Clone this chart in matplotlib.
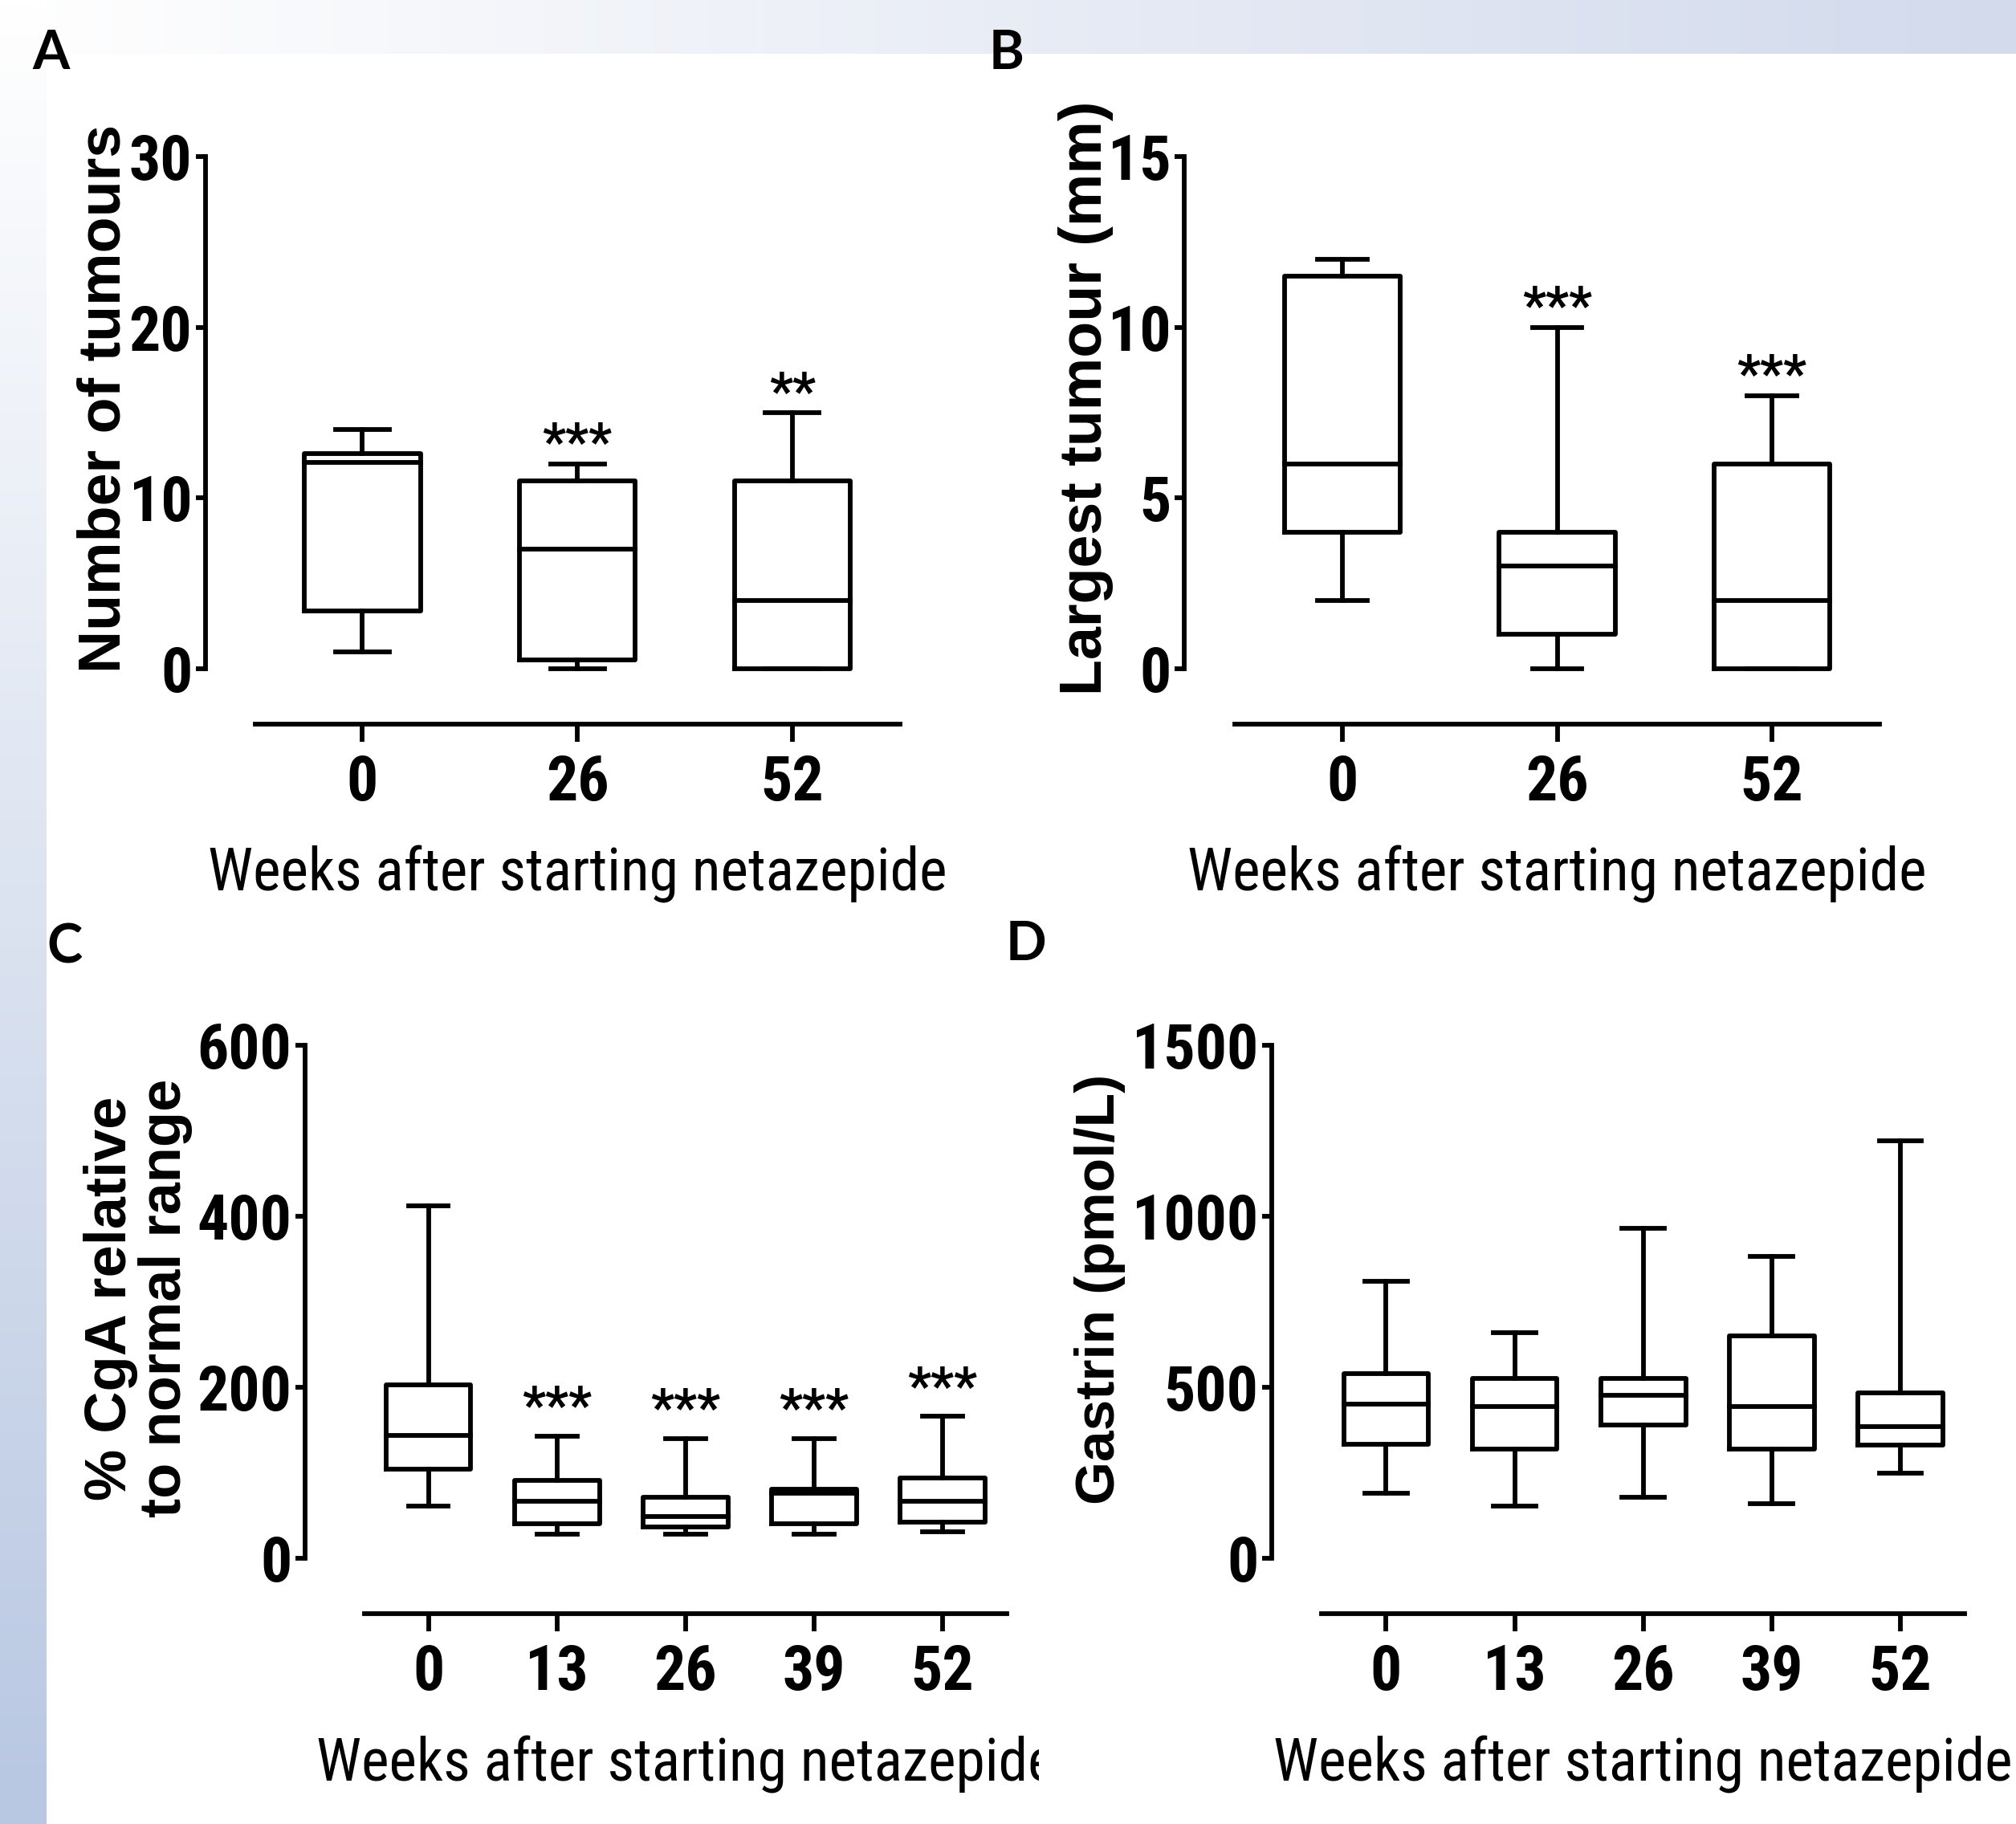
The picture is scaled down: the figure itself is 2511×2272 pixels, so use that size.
import numpy as np
import matplotlib
matplotlib.use('Agg')
import matplotlib.pyplot as plt
from matplotlib.colors import LinearSegmentedColormap
from matplotlib.transforms import Bbox

W, H = 2511, 2272  # tamanho final em pixels

# ---- dados ----
# A: numero de tumores
semanas_ab = ['0', '26', '52']
tum_min = [1, 0, 0]
tum_q1 = [3.4, 0.5, 0]
tum_med = [12.1, 7, 4]
tum_q3 = [12.6, 11, 11]
tum_max = [14, 12, 15]
tum_sig = ['', '***', '**']

# B: maior tumor (mm)
maior_min = [2, 0, 0]
maior_q1 = [4, 1, 0]
maior_med = [6, 3, 2]
maior_q3 = [11.5, 4, 6]
maior_max = [12, 10, 8]
maior_sig = ['', '***', '***']

# C: % CgA
semanas_cd = ['0', '13', '26', '39', '52']
cga_min = [61, 28, 28, 28, 31]
cga_q1 = [104, 40, 37, 40, 42]
cga_med = [144, 67, 49, 76, 67]
cga_q3 = [203, 91, 71, 81, 94]
cga_max = [412, 143, 140, 140, 166]
cga_sig = ['', '***', '***', '***', '***']

# D: gastrina
gas_min = [191, 152, 178, 159, 250]
gas_q1 = [333, 319, 389, 319, 332]
gas_med = [450, 444, 476, 444, 385]
gas_q3 = [540, 526, 526, 651, 484]
gas_max = [809, 659, 965, 883, 1221]

fonte_num = ['Roboto Condensed', 'DejaVu Sans']
fonte_eixo = ['Liberation Sans', 'DejaVu Sans']
lw = 4.2

fig = plt.figure(figsize=(W / 100, H / 100), dpi=100)

# fundo com degrade azul (topo e lateral esquerda)
bg = fig.add_axes([0, 0, 1, 1], zorder=-10)
bg.set_xlim(0, W)
bg.set_ylim(H, 0)
bg.axis('off')
topo = LinearSegmentedColormap.from_list('topo', ['#ffffff', '#d2daec'])
lado = LinearSegmentedColormap.from_list('lado', ['#ffffff', '#b8c7e2'])
bg.imshow(np.linspace(0, 1, 256)[None, :], cmap=topo, extent=(0, W, 67, 0), aspect='auto')
bg.imshow(np.linspace(0, 1, 256)[:, None], cmap=lado, extent=(0, 58, H, 0), aspect='auto')


def pos(l, t, r, b):
    return [l / W, 1 - b / H, (r - l) / W, (b - t) / H]


def painel(rect, cats, mins, q1, med, q3, maxs, sig, ymax, yticks, xlim,
           larg, cap, ylabel, ylab_x, ylab_y, desloc=4, ylab_tam=53):
    ax = fig.add_axes(pos(*rect))
    stats = [dict(whislo=a, q1=b, med=c, q3=d, whishi=e, fliers=[])
             for a, b, c, d, e in zip(mins, q1, med, q3, maxs)]
    props = dict(color='black', linewidth=lw, solid_capstyle='projecting')
    arts = ax.bxp(stats, positions=range(len(cats)), widths=larg, capwidths=cap,
                  showfliers=False, boxprops=props, whiskerprops=props,
                  capprops=props, medianprops=props)
    for k in arts:
        for a in arts[k]:
            a.set_clip_on(False)
    for i, s in enumerate(sig):
        if s:
            ax.annotate(s, xy=(i, maxs[i]), xytext=(0, desloc), textcoords='offset points',
                        ha='center', va='baseline', fontsize=46, fontweight='bold',
                        family=fonte_num)
    ax.set_xlim(*xlim)
    ax.set_ylim(0, ymax)
    ax.set_yticks(yticks)
    ax.set_xticks(range(len(cats)))
    ax.set_xticklabels(cats)
    for s in ['top', 'right']:
        ax.spines[s].set_visible(False)
    ax.spines['left'].set_linewidth(lw)
    ax.spines['bottom'].set_linewidth(lw)
    ax.spines['bottom'].set_position(('outward', 50))
    ax.spines['bottom'].set_bounds(-0.5, len(cats) - 0.5)
    ax.tick_params(axis='y', length=9, width=lw, pad=3)
    ax.tick_params(axis='x', length=16, width=lw, pad=10)
    for t in ax.get_xticklabels() + ax.get_yticklabels():
        t.set_family(fonte_num)
        t.set_fontweight('bold')
        t.set_fontsize(56)
    ax.set_ylabel(ylabel, fontsize=ylab_tam, fontweight='bold', family=fonte_eixo,
                  va='center', ha='center', linespacing=1.0)
    ax.yaxis.set_label_coords(ylab_x, ylab_y)
    ax.set_xlabel('Weeks after starting netazepide', fontsize=53, family=fonte_num,
                  va='center', ha='center')
    meio = (len(cats) - 1) / 2
    ax.xaxis.set_label_coords((meio - xlim[0]) / (xlim[1] - xlim[0]), -0.40)
    return ax


painel((256, 195, 1134, 833), semanas_ab, tum_min, tum_q1, tum_med, tum_q3, tum_max,
       tum_sig, 30, [0, 10, 20, 30], (-0.73, 2.55), 0.54, 0.25,
       'Number of tumours', -0.143, 0.528)
painel((1475, 195, 2354, 833), semanas_ab, maior_min, maior_q1, maior_med, maior_q3, maior_max,
       maior_sig, 15, [0, 5, 10, 15], (-0.737, 2.55), 0.54, 0.23,
       'Largest tumour (mm)', -0.139, 0.528)
axc = painel((380, 1302, 1262, 1941), semanas_cd, cga_min, cga_q1, cga_med, cga_q3, cga_max,
             cga_sig, 600, [0, 200, 400, 600], (-0.96, 4.55), 0.66, 0.31,
             '% CgA relative\nto normal range', -0.236, 0.507, desloc=12, ylab_tam=52)
painel((1584, 1302, 2455, 1941), semanas_cd, gas_min, gas_q1, gas_med, gas_q3, gas_max,
       [''] * 5, 1500, [0, 500, 1000, 1500], (-0.89, 4.55), 0.66, 0.33,
       'Gastrin (pmol/L)', -0.246, 0.524, ylab_tam=50)

# o rotulo do painel C aparece cortado na direita
axc.xaxis.label.set_clip_box(Bbox([[0, 0], [1294, H]]))

# letras dos paineis
for letra, x, y in [('A', 64, 67), ('B', 1254, 67), ('C', 80, 1180), ('D', 1278, 1177)]:
    fig.text(x / W, 1 - y / H, letra, fontsize=48, fontweight='bold',
             family=['Lato', 'DejaVu Sans'], ha='center', va='center')

fig.savefig('out.png', dpi=100)
